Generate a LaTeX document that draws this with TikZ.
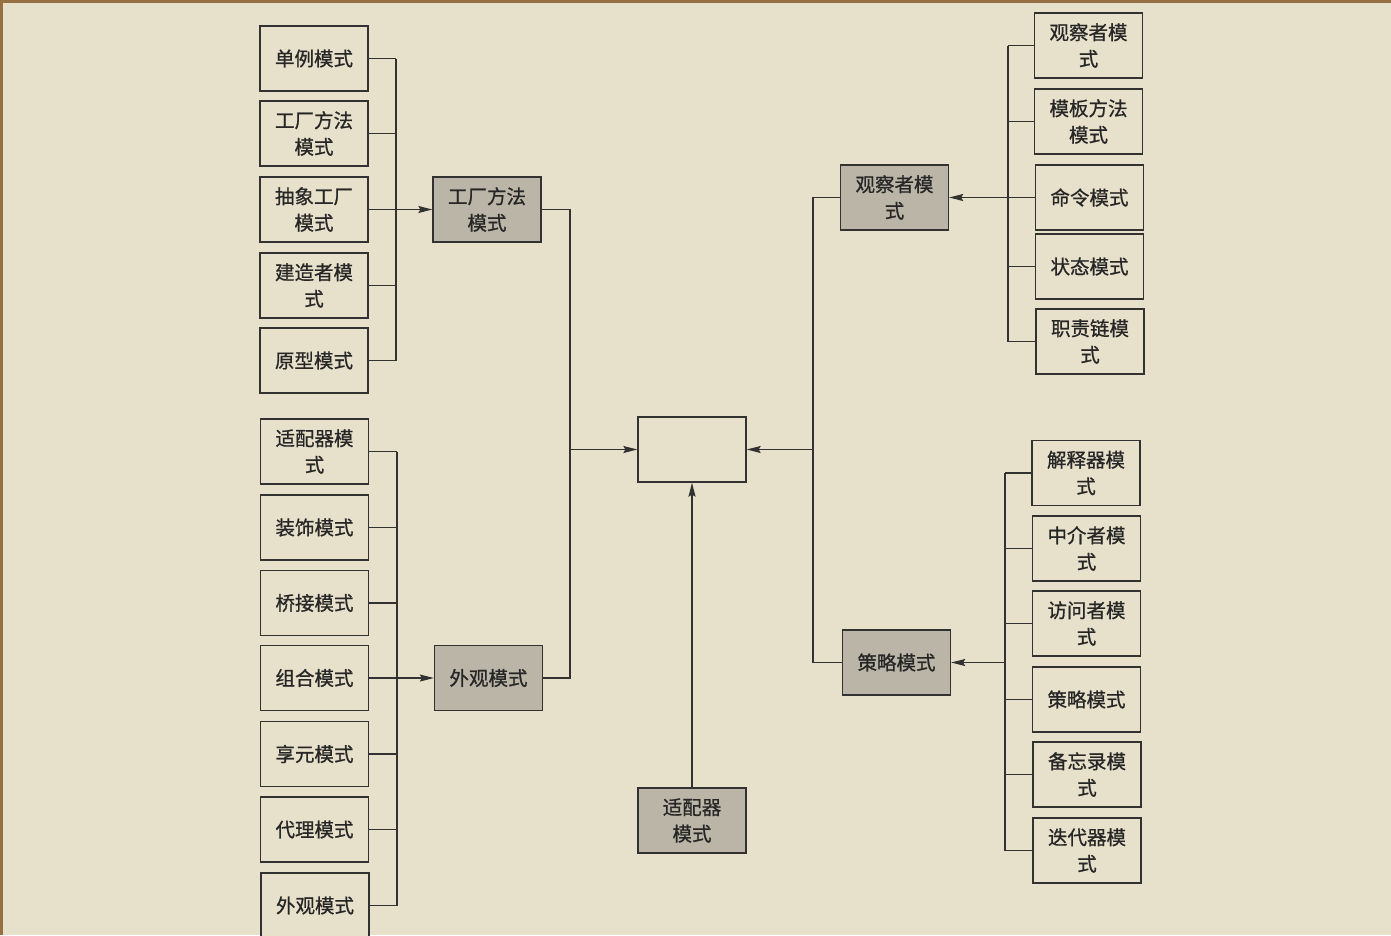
\documentclass[tikz,border=0pt]{standalone}
\usepackage{fontspec}
\newfontfamily\cjk[FakeBold=0.8]{Noto Sans CJK SC}
\usetikzlibrary{arrows.meta}
\definecolor{bgc}{RGB}{231,224,202}
\definecolor{framec}{RGB}{150,112,66}
\definecolor{shadec}{RGB}{186,181,166}
\definecolor{linec}{RGB}{50,50,50}
\definecolor{txtc}{RGB}{38,38,38}
\tikzset{
  pbox/.style={draw=linec, line width=1.3pt, fill=bgc, minimum width=108pt, minimum height=65pt,
    inner sep=0pt, align=center, text=txtc, font=\cjk\fontsize{19.5}{26.5}\selectfont},
  sbox/.style={pbox, fill=shadec},
  wire/.style={draw=linec, line width=1.3pt},
  arr/.style={wire, -{Stealth[length=14pt,width=7pt,inset=2pt]}}
}
\begin{document}
\begin{tikzpicture}[x=1pt,y=-1pt]
\useasboundingbox (0,0) rectangle (1391,935);
\fill[bgc] (0,0) rectangle (1391,935);
\clip (0,0) rectangle (1391,935);
\fill[framec] (0,0) rectangle (1391,3);
\fill[framec] (0,0) rectangle (3,935);
% bus coordinates
\coordinate (busL) at (396,0);
\coordinate (busL2) at (397,0);
\coordinate (jL) at (570,0);
\coordinate (jR) at (813,0);
\coordinate (busRT) at (1008,0);
\coordinate (busRB) at (1005,0);
% left group 1
\node[pbox] (a1) at (314,58.5) {单例模式};
\node[pbox] (a2) at (314,133.5) {工厂方法\\模式};
\node[pbox] (a3) at (314,209.5) {抽象工厂\\模式};
\node[pbox] (a4) at (314,285.5) {建造者模\\式};
\node[pbox] (a5) at (314,360.5) {原型模式};
\node[sbox] (f) at (487,209.5) {工厂方法\\模式};
% left group 2
\node[pbox] (b1) at (314.5,451.5) {适配器模\\式};
\node[pbox] (b2) at (314.5,527.5) {装饰模式};
\node[pbox] (b3) at (314.5,603) {桥接模式};
\node[pbox] (b4) at (314.5,678) {组合模式};
\node[pbox] (b5) at (314.5,754) {享元模式};
\node[pbox] (b6) at (314.5,829.5) {代理模式};
\node[pbox] (b7) at (315,905.5) {外观模式};
\node[sbox] (w) at (488.5,678) {外观模式};
% center
\node[pbox] (c) at (692,449.5) {};
\node[sbox] (ad) at (692,820.5) {适配器\\模式};
% right middle
\node[sbox] (obs) at (894.5,197.5) {观察者模\\式};
\node[sbox] (st) at (896.5,662.5) {策略模式};
% right top group
\node[pbox] (r1) at (1088.5,45.5) {观察者模\\式};
\node[pbox] (r2) at (1088.5,121.5) {模板方法\\模式};
\node[pbox] (r3) at (1089.5,197.5) {命令模式};
\node[pbox] (r4) at (1089.5,266.5) {状态模式};
\node[pbox] (r5) at (1090,341.5) {职责链模\\式};
% right bottom group
\node[pbox] (s1) at (1086,473) {解释器模\\式};
\node[pbox] (s2) at (1086.5,548.5) {中介者模\\式};
\node[pbox] (s3) at (1086.5,623.5) {访问者模\\式};
\node[pbox] (s4) at (1086.5,699.5) {策略模式};
\node[pbox] (s5) at (1087,774.5) {备忘录模\\式};
\node[pbox] (s6) at (1087,850.5) {迭代器模\\式};
% left group 1 wiring
\foreach \n in {a1,a2,a3,a4,a5} {\draw[wire] (\n.east) -- (\n.east -| busL);}
\draw[wire] (a1.east -| busL) -- (a5.east -| busL);
\draw[arr] (a3.east -| busL) -- (f.west);
% left group 2 wiring
\foreach \n in {b1,b2,b3,b4,b5,b6,b7} {\draw[wire] (\n.east) -- (\n.east -| busL2);}
\draw[wire] (b1.east -| busL2) -- (b7.east -| busL2);
\draw[arr] (b4.east -| busL2) -- (w.west);
% to center
\draw[wire] (f.east) -- (f.east -| jL) -- (w.east -| jL) -- (w.east);
\draw[arr] (c.west -| jL) -- (c.west);
\draw[arr] (ad.north) -- (c.south);
\draw[wire] (obs.west) -- (obs.west -| jR) -- (st.west -| jR) -- (st.west);
\draw[arr] (c.east -| jR) -- (c.east);
% right top wiring
\foreach \n in {r1,r2,r3,r4,r5} {\draw[wire] (\n.west) -- (\n.west -| busRT);}
\draw[wire] (r1.west -| busRT) -- (r5.west -| busRT);
\draw[arr] (r3.west -| busRT) -- (obs.east);
% right bottom wiring
\foreach \n in {s1,s2,s3,s4,s5,s6} {\draw[wire] (\n.west) -- (\n.west -| busRB);}
\draw[wire] (s1.west -| busRB) -- (s6.west -| busRB);
\draw[arr] (st.east -| busRB) -- (st.east);
\end{tikzpicture}
\end{document}
